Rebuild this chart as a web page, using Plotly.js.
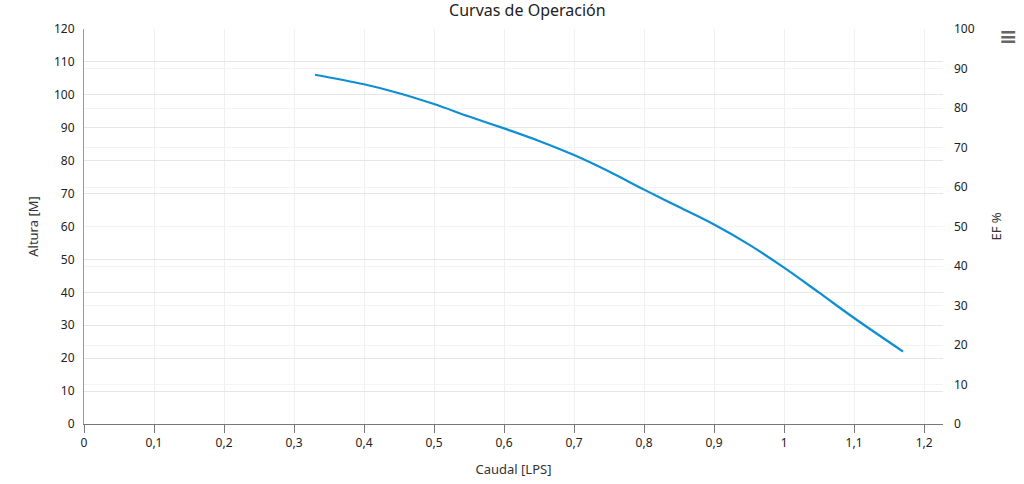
<!DOCTYPE html>
<html>
<head>
<meta charset="utf-8">
<script src="https://cdn.plot.ly/plotly-3.0.1.min.js"></script>
<style>
  html, body { margin: 0; padding: 0; background: #fff; }
  #chart { width: 1024px; height: 484px; }
</style>
</head>
<body>
<div id="chart"></div>
<script>
// caudal [LPS] vs altura [M]
const caudal = [0.33, 0.4, 0.45, 0.5, 0.55, 0.6, 0.65, 0.7, 0.75, 0.8, 0.85, 0.9, 0.95, 1.0, 1.05, 1.1, 1.17];
const altura = [106.1, 103.2, 100.5, 97.2, 93.4, 89.8, 86.0, 81.7, 76.7, 71.2, 65.9, 60.6, 54.5, 47.5, 39.9, 32.2, 22.0];

const FONT = 'Noto Sans, Open Sans, sans-serif';

const traces = [
  {
    x: caudal,
    y: altura,
    type: 'scatter',
    mode: 'lines',
    name: 'Altura',
    line: { color: '#0f8fd2', width: 2.2, shape: 'spline', smoothing: 1 },
    hoverinfo: 'x+y',
  },
  {
    // empty trace so the right axis is drawn
    x: [],
    y: [],
    yaxis: 'y2',
    type: 'scatter',
    showlegend: false,
  },
];

const layout = {
  width: 1024,
  height: 484,
  separators: ',.',
  font: { family: FONT, size: 12, color: '#333' },
  title: {
    text: 'Curvas de Operación',
    font: { family: FONT, size: 16, color: '#222' },
    x: 0.515,
    xanchor: 'center',
    y: 0.979,
    yanchor: 'middle',
  },
  margin: { l: 84, r: 81, t: 29, b: 60 },
  showlegend: false,
  plot_bgcolor: '#fff',
  paper_bgcolor: '#fff',
  xaxis: {
    range: [0, 1.227],
    dtick: 0.1,
    tick0: 0,
    showgrid: true,
    gridcolor: '#f0f0f0',
    zeroline: false,
    showline: true,
    linecolor: '#777',
    linewidth: 1,
    ticks: 'outside',
    ticklen: 8,
    tickcolor: '#777',
    tickfont: { size: 12, color: '#222' },
    title: { text: 'Caudal [LPS]', font: { size: 13, color: '#333' }, standoff: 14 },
  },
  yaxis: {
    range: [0, 120],
    dtick: 10,
    showgrid: true,
    gridcolor: '#e6e6e6',
    zeroline: false,
    showline: true,
    linecolor: '#999',
    linewidth: 1,
    ticks: '',
    ticklabelstandoff: 6,
    tickfont: { size: 12, color: '#222' },
    title: { text: 'Altura [M]', font: { size: 13, color: '#333' }, standoff: 12 },
  },
  yaxis2: {
    range: [0, 100],
    dtick: 10,
    overlaying: 'y',
    side: 'right',
    showgrid: true,
    gridcolor: '#f3f3f3',
    zeroline: false,
    showline: false,
    ticks: '',
    ticklabelstandoff: 10,
    tickfont: { size: 12, color: '#222' },
    title: { text: 'EF %', font: { size: 13, color: '#333' }, standoff: 18 },
  },
  annotations: [{
    xref: 'paper', yref: 'paper',
    x: 1.0757, y: 0.98,
    xanchor: 'center', yanchor: 'middle',
    text: '<b>≡</b>',
    showarrow: false,
    font: { family: 'DejaVu Sans, sans-serif', size: 22, color: '#666' },
  }],
};

Plotly.newPlot('chart', traces, layout, { displayModeBar: false, staticPlot: true });
</script>
</body>
</html>
